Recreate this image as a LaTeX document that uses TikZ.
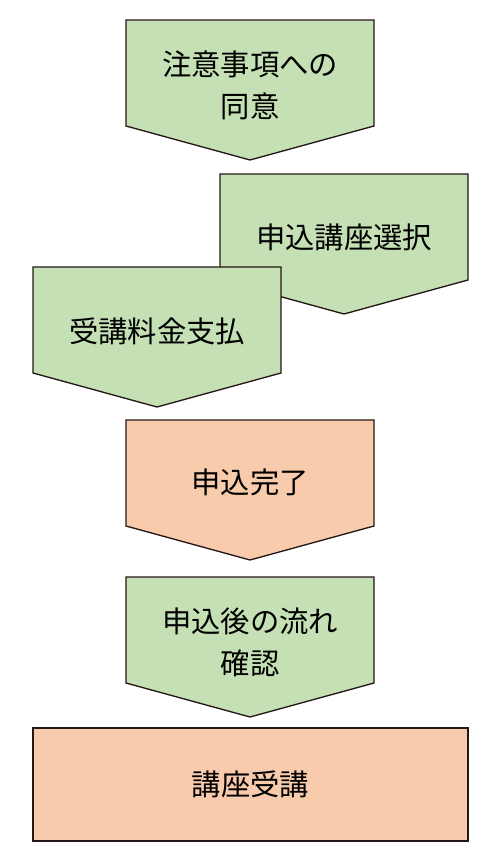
\documentclass[tikz,border=0pt]{standalone}
\usepackage{fontspec}
\newfontfamily\jpfont{Noto Sans CJK JP}
\usepackage{tikz}
\usetikzlibrary{positioning}
\definecolor{stepgreen}{HTML}{C5E0B4}
\definecolor{steporange}{HTML}{F8CBAD}
\definecolor{stepline}{HTML}{231815}
\tikzset{
  every picture/.append style={line width=1pt},
  every node/.append style={font=\jpfont\fontsize{22}{31.5}\selectfont},
}

\begin{document}
\begin{tikzpicture}[
  x=0.75pt, y=-0.75pt,
  cGreen/.style ={fill=stepgreen,  draw=stepline},
  cOrange/.style={fill=steporange, draw=stepline},
  chev/.style   ={line join=miter},
  steplabel/.style={align=center, inner sep=0pt, text=black}
]
\useasboundingbox (0,0) rectangle (500,860);

% pentagon arrows, top to bottom
\draw[chev,cGreen]  (126,20)  -- ++(248,0) -- ++(0,106) -- ++(-124,34) -- ++(-124,-34) -- cycle;
\draw[chev,cGreen]  (220,174) -- ++(248,0) -- ++(0,106) -- ++(-124,34) -- ++(-124,-34) -- cycle;
\draw[chev,cGreen]  (33,267)  -- ++(248,0) -- ++(0,106) -- ++(-124,34) -- ++(-124,-34) -- cycle;
\draw[chev,cOrange] (126,420) -- ++(248,0) -- ++(0,106) -- ++(-124,34) -- ++(-124,-34) -- cycle;
\draw[chev,cGreen]  (126,577) -- ++(248,0) -- ++(0,106) -- ++(-124,34) -- ++(-124,-34) -- cycle;

\node[steplabel] (agree)   at (250,85.5) {注意事項への\\同意};
\node[steplabel] (select)  at (344,237)  {申込講座選択};
\node[steplabel] (payment) at (157,331)  {受講料金支払};
\node[steplabel] (done)    at (250,482)  {申込完了};
\node[steplabel] (confirm) at (250,642)  {申込後の流れ\\確認};

\node[cOrange, minimum width=435*0.75pt, minimum height=113*0.75pt, inner sep=0pt]
  (attend) at (250.5,784.5) {講座受講};

\end{tikzpicture}
\end{document}
